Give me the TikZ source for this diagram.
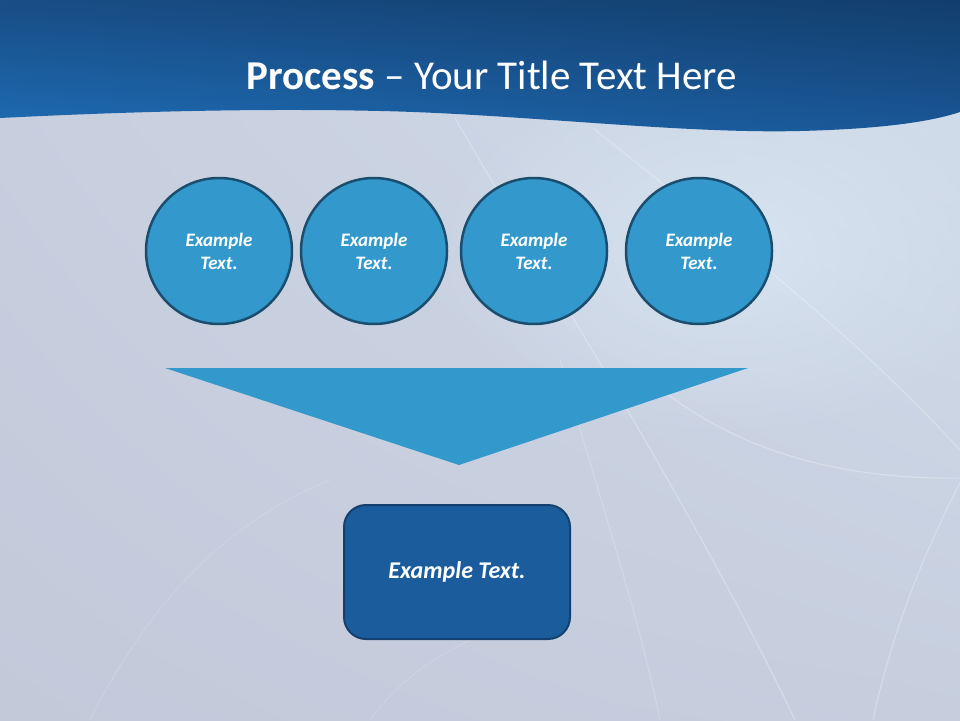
\documentclass[tikz,border=0pt]{standalone}
\usepackage{fontspec}
\setmainfont{Carlito}
\usetikzlibrary{fadings, shadings}

\definecolor{stepblue}{HTML}{3399CC}
\definecolor{stepedge}{HTML}{1B4E6E}
\definecolor{resultblue}{HTML}{1A5C9C}
\definecolor{resultedge}{HTML}{153F6C}
\definecolor{bgUL}{RGB}{200,207,223}
\definecolor{bgUR}{RGB}{210,222,236}
\definecolor{bgLL}{RGB}{196,201,218}
\definecolor{bgLR}{RGB}{198,206,222}
\definecolor{glowblue}{RGB}{222,236,248}
\definecolor{hdUL}{RGB}{24,77,133}
\definecolor{hdUR}{RGB}{18,62,108}
\definecolor{hdLL}{RGB}{30,108,181}
\definecolor{hdLR}{RGB}{26,87,151}

\tikzfading[name=glow, inner color=transparent!0, outer color=transparent!100]

\begin{document}
\begin{tikzpicture}[x=1pt, y=-1pt]
\newcommand{\circsize}{146pt}
\newcommand{\rowy}{251}

\tikzset{ stepcircle/.style={circle, draw=stepedge, line width=2.5pt,
    fill=stepblue, minimum size=\circsize, inner sep=0pt, text=white,
    align=center, font={\fontsize{19}{23}\selectfont\bfseries\itshape}},
  resultbox/.style={draw=resultedge, line width=2pt, fill=resultblue,
    rounded corners=22pt, minimum width=226pt, minimum height=134pt,
    text=white, font={\fontsize{24}{28}\selectfont\bfseries\itshape}},
  streak/.style={white, opacity=0.3, line width=1pt},
  font={\fontsize{41}{48}\selectfont}
}

\useasboundingbox (0,0) rectangle (960,720);

\shade[upper left=bgUL, upper right=bgUR, lower left=bgLL, lower right=bgLR]
  (0,0) rectangle (960,720);
\fill[glowblue, path fading=glow, opacity=0.6] (730,250) ellipse (300 and 190);

\draw[streak] (455,118) .. controls (560,300) and (700,520) .. (795,720);
\draw[streak] (593,128) .. controls (720,230) and (850,330) .. (960,450);
\draw[streak] (650,380) .. controls (720,440) and (820,480) .. (960,478);
\draw[streak] (960,483) .. controls (920,560) and (890,640) .. (873,720);
\draw[streak, opacity=0.2] (560,360) .. controls (600,500) and (640,620) .. (660,720);
\draw[streak, opacity=0.15] (90,720) .. controls (150,600) and (230,520) .. (330,480);
\draw[streak, opacity=0.15] (370,720) .. controls (400,680) and (430,660) .. (470,640);

\shade[upper left=hdUL, upper right=hdUR, lower left=hdLL, lower right=hdLR]
  (0,0) -- (960,0) -- (960,112) .. controls (930,122) and (880,129) .. (800,131)
  .. controls (680,134) and (520,114) .. (380,111)
  .. controls (250,108) and (120,112) .. (0,118) -- cycle;

\node[text=white] (title) at (492,75) {\textbf{Process} – Your Title Text Here};

\node[stepcircle] (step1) at (219,\rowy) {Example\\Text.};
\node[stepcircle] (step2) at (374,\rowy) {Example\\Text.};
\node[stepcircle] (step3) at (534,\rowy) {Example\\Text.};
\node[stepcircle] (step4) at (699,\rowy) {Example\\Text.};

\fill[stepblue] (165,368) -- (748,368) -- (459,465) -- cycle;

\node[resultbox] (result) at (457,572) {Example Text.};

\end{tikzpicture}
\end{document}
